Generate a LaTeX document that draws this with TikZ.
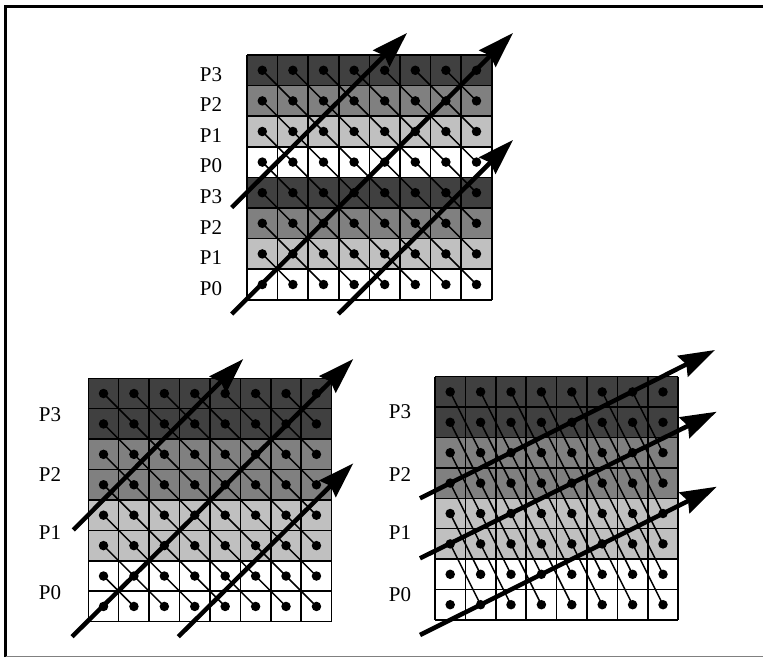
\documentclass[tikz,border=0pt]{standalone}
\usepackage{fontspec}
\setmainfont{Liberation Serif}
\usetikzlibrary{arrows.meta}
\definecolor{pthree}{HTML}{404040}
\definecolor{ptwo}{HTML}{808080}
\definecolor{pone}{HTML}{C0C0C0}
\tikzset{
  gridline/.style={draw=black, line width=1.5pt},
  dotnode/.style={circle, fill=black, inner sep=0pt, minimum size=9.5pt},
  link/.style={line width=1.5pt},
  bigarrow/.style={line width=4.5pt, -{Stealth[length=36pt,width=23pt,inset=4pt]}},
  plabel/.style={font=\fontsize{21}{23}\selectfont, inner sep=0pt},
}
\begin{document}
\begin{tikzpicture}[x=1pt,y=-1pt]
\useasboundingbox (0,0) rectangle (763,658);
% frame
\draw[line width=3pt] (5.5,657) -- (5.5,6.5) -- (763,6.5);
\draw[line width=1.5pt, gray] (5.5,656.5) -- (763,656.5);

% ---------- top grid A ----------
\def\xa{247}\def\ya{55}\def\cella{30.6}
\foreach \r/\col in {0/pthree,1/ptwo,2/pone,3/white,4/pthree,5/ptwo,6/pone,7/white}
  \fill[\col] ({\xa},{\ya+\r*\cella}) rectangle ++({8*\cella},\cella);
\foreach \i in {0,...,8}{
  \draw[gridline] ({\xa+\i*\cella},{\ya}) -- ++(0,{8*\cella});
  \draw[gridline] ({\xa},{\ya+\i*\cella}) -- ++({8*\cella},0);
}
\foreach \r in {0,...,7}
  \foreach \c in {0,...,7}
    \node[dotnode] (A-\r-\c) at ({\xa+(\c+0.5)*\cella},{\ya+(\r+0.5)*\cella}) {};
\foreach \r in {0,...,6}
  \foreach \c in {0,...,6}{
    \pgfmathtruncatemacro\rr{\r+1}\pgfmathtruncatemacro\cn{\c+1}
    \draw[link] (A-\r-\c.center) -- (A-\rr-\cn.center);
  }
\foreach \r/\t in {0/P3,1/P2,2/P1,3/P0,4/P3,5/P2,6/P1,7/P0}
  \node[plabel] (A-lab-\r) at (211,{\ya+(\r+0.5)*\cella+4}) {\t};
\coordinate (A-t1) at (231.7,207.5);
\coordinate (A-h1) at (407,33);
\coordinate (A-t2) at (231.7,314);
\coordinate (A-h2) at (513,33);
\coordinate (A-t3) at (338.3,314);
\coordinate (A-h3) at (513,140);
\foreach \i in {1,2,3}
  \draw[bigarrow] (A-t\i) -- (A-h\i);

% ---------- bottom-left grid B ----------
\def\xb{88.3}\def\yb{378.3}\def\cellb{30.42}
\foreach \r/\col in {0/pthree,1/pthree,2/ptwo,3/ptwo,4/pone,5/pone,6/white,7/white}
  \fill[\col] ({\xb},{\yb+\r*\cellb}) rectangle ++({8*\cellb},\cellb);
\foreach \i in {0,...,8}{
  \draw[gridline] ({\xb+\i*\cellb},{\yb}) -- ++(0,{8*\cellb});
  \draw[gridline] ({\xb},{\yb+\i*\cellb}) -- ++({8*\cellb},0);
}
\foreach \r in {0,...,7}
  \foreach \c in {0,...,7}
    \node[dotnode] (B-\r-\c) at ({\xb+(\c+0.5)*\cellb},{\yb+(\r+0.5)*\cellb}) {};
\foreach \r in {0,...,6}
  \foreach \c in {0,...,6}{
    \pgfmathtruncatemacro\rr{\r+1}\pgfmathtruncatemacro\cn{\c+1}
    \draw[link] (B-\r-\c.center) -- (B-\rr-\cn.center);
  }
\foreach \y/\t in {415/P3,475/P2,533/P1,593/P0}
  \node[plabel] (B-lab-\t) at (50,\y) {\t};
\coordinate (B-t1) at (73.3,530);
\coordinate (B-h1) at (243.3,359);
\coordinate (B-t2) at (72,636.7);
\coordinate (B-h2) at (353.3,359);
\coordinate (B-t3) at (178.3,636.7);
\coordinate (B-h3) at (353.3,463.3);
\foreach \i in {1,2,3}
  \draw[bigarrow] (B-t\i) -- (B-h\i);

% ---------- bottom-right grid C ----------
\def\xc{435}\def\yc{376.7}\def\cellc{30.4}
\foreach \r/\col in {0/pthree,1/pthree,2/ptwo,3/ptwo,4/pone,5/pone,6/white,7/white}
  \fill[\col] ({\xc},{\yc+\r*\cellc}) rectangle ++({8*\cellc},\cellc);
\foreach \i in {0,...,8}{
  \draw[gridline] ({\xc+\i*\cellc},{\yc}) -- ++(0,{8*\cellc});
  \draw[gridline] ({\xc},{\yc+\i*\cellc}) -- ++({8*\cellc},0);
}
\foreach \r in {0,...,7}
  \foreach \c in {0,...,7}
    \node[dotnode] (C-\r-\c) at ({\xc+(\c+0.5)*\cellc},{\yc+(\r+0.5)*\cellc}) {};
\foreach \r in {0,...,5}
  \foreach \c in {0,...,6}{
    \pgfmathtruncatemacro\rr{\r+2}\pgfmathtruncatemacro\cn{\c+1}
    \draw[link] (C-\r-\c.center) -- (C-\rr-\cn.center);
  }
\foreach \y/\t in {412/P3,475/P2,533/P1,595/P0}
  \node[plabel] (C-lab-\t) at (400,\y) {\t};
\coordinate (C-t1) at (420,498.3);
\coordinate (C-h1) at (715,350);
\coordinate (C-t2) at (420,558.3);
\coordinate (C-h2) at (716.7,411.7);
\coordinate (C-t3) at (420,635);
\coordinate (C-h3) at (716.7,486.7);
\foreach \i in {1,2,3}
  \draw[bigarrow] (C-t\i) -- (C-h\i);
\end{tikzpicture}
\end{document}
